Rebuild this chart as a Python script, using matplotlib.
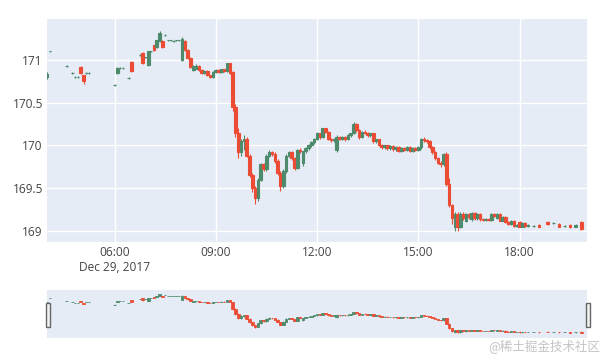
import matplotlib.pyplot as plt
import matplotlib.dates as mdates
from matplotlib.patches import Rectangle
import pandas as pd

# 5-minute candles, Dec 29, 2017
times = ['04:00', '04:05', '04:35', '04:45', '04:50', '04:55', '05:00', '05:05', '05:10', '05:15',
         '06:00', '06:05', '06:10', '06:15', '06:25', '06:30', '06:45', '06:50', '06:55',
         '07:00', '07:05', '07:10', '07:15', '07:20', '07:25', '07:30', '07:35', '07:40', '07:45',
         '07:50', '07:55', '08:00', '08:05', '08:10', '08:15', '08:20', '08:25', '08:30', '08:35',
         '08:40', '08:45', '08:50', '08:55', '09:00', '09:05', '09:10', '09:15', '09:20', '09:25',
         '09:30', '09:35', '09:40', '09:45', '09:50', '09:55', '10:00', '10:05', '10:10', '10:15',
         '10:20', '10:25', '10:30', '10:35', '10:40', '10:45', '10:50', '10:55', '11:00', '11:05',
         '11:10', '11:15', '11:20', '11:25', '11:30', '11:35', '11:40', '11:45', '11:50', '11:55',
         '12:00', '12:05', '12:10', '12:15', '12:20', '12:25', '12:30', '12:35', '12:40', '12:45',
         '12:50', '12:55', '13:00', '13:05', '13:10', '13:15', '13:20', '13:25', '13:30', '13:35',
         '13:40', '13:45', '13:50', '13:55', '14:00', '14:05', '14:10', '14:15', '14:20', '14:25',
         '14:30', '14:35', '14:40', '14:45', '14:50', '14:55', '15:00', '15:05', '15:10', '15:15',
         '15:20', '15:25', '15:30', '15:35', '15:40', '15:45', '15:50', '15:55', '16:00', '16:05',
         '16:10', '16:15', '16:20', '16:25', '16:30', '16:35', '16:40', '16:45', '16:50', '16:55',
         '17:00', '17:05', '17:10', '17:15', '17:20', '17:25', '17:30', '17:35', '17:40', '17:45',
         '17:50', '17:55', '18:00', '18:05', '18:10', '18:15', '18:25', '18:35', '18:50', '19:00',
         '19:10', '19:20', '19:30', '19:40', '19:50']

opens = [170.80, 171.10, 170.93, 170.85, 170.80, 170.80, 170.92, 170.82, 170.85, 170.85,
         170.71, 170.85, 170.91, 170.91, 170.79, 170.98, 171.06, 171.08, 171.03,
         170.94, 171.10, 171.17, 171.15, 171.22, 171.22, 171.29, 171.23, 171.23, 171.22,
         171.23, 171.23, 171.00, 171.22, 171.12, 171.02, 170.88, 170.90, 170.93, 170.88,
         170.85, 170.87, 170.82, 170.80, 170.86, 170.88, 170.86, 170.89, 170.87, 170.96,
         170.86, 170.45, 170.15, 169.92, 170.05, 170.08, 169.88, 169.65, 169.50, 169.38,
         169.60, 169.78, 169.72, 169.88, 169.92, 169.90, 169.82, 169.68, 169.52, 169.70,
         169.88, 169.92, 169.85, 169.74, 169.95, 169.80, 169.93, 169.97, 170.00, 170.04,
         170.08, 170.14, 170.10, 170.20, 170.16, 170.08, 170.06, 169.95, 170.10, 170.08,
         170.10, 170.07, 170.12, 170.14, 170.25, 170.18, 170.10, 170.16, 170.15, 170.12,
         170.14, 170.05, 170.07, 170.01, 169.98, 170.00, 169.97, 169.99, 169.96, 169.98,
         169.94, 169.97, 169.95, 169.98, 169.94, 169.97, 169.95, 169.98, 170.08, 170.06,
         170.05, 169.98, 169.92, 169.85, 169.80, 169.78, 169.90, 169.55, 169.30, 169.05,
         169.20, 169.05, 169.20, 169.12, 169.20, 169.14, 169.21, 169.15, 169.20, 169.14,
         169.13, 169.14, 169.13, 169.20, 169.15, 169.20, 169.12, 169.16, 169.10, 169.08,
         169.12, 169.06, 169.10, 169.05, 169.09, 169.06, 169.06, 169.07, 169.10, 169.09,
         169.08, 169.06, 169.07, 169.05, 169.10]

highs = [170.86, 171.11, 170.94, 170.86, 170.81, 170.81, 170.93, 170.83, 170.86, 170.86,
         170.72, 170.92, 170.92, 170.92, 170.80, 170.99, 171.07, 171.09, 171.04,
         171.11, 171.11, 171.18, 171.24, 171.34, 171.23, 171.30, 171.24, 171.24, 171.23,
         171.24, 171.24, 171.27, 171.23, 171.13, 171.03, 170.94, 170.95, 170.94, 170.89,
         170.88, 170.88, 170.83, 170.87, 170.89, 170.89, 170.90, 170.90, 170.97, 170.97,
         170.87, 170.48, 170.20, 170.07, 170.12, 170.10, 169.90, 169.68, 169.52, 169.62,
         169.80, 169.80, 169.90, 169.95, 169.94, 169.92, 169.84, 169.70, 169.72, 169.90,
         169.94, 169.93, 169.87, 169.96, 169.97, 169.94, 169.98, 170.02, 170.05, 170.09,
         170.16, 170.15, 170.21, 170.21, 170.17, 170.09, 170.09, 170.12, 170.11, 170.11,
         170.11, 170.13, 170.15, 170.27, 170.26, 170.19, 170.17, 170.18, 170.16, 170.15,
         170.15, 170.08, 170.08, 170.02, 170.01, 170.01, 170.00, 170.00, 169.99, 169.99,
         169.98, 169.98, 169.99, 169.99, 169.98, 169.98, 169.99, 170.09, 170.10, 170.08,
         170.06, 169.99, 169.93, 169.86, 169.82, 169.91, 169.92, 169.62, 169.32, 169.22,
         169.22, 169.22, 169.22, 169.21, 169.21, 169.22, 169.22, 169.21, 169.21, 169.15,
         169.15, 169.15, 169.21, 169.21, 169.21, 169.21, 169.17, 169.17, 169.11, 169.13,
         169.13, 169.08, 169.11, 169.10, 169.10, 169.08, 169.07, 169.08, 169.11, 169.10,
         169.09, 169.07, 169.08, 169.08, 169.11]

lows = [170.78, 171.09, 170.92, 170.84, 170.79, 170.79, 170.84, 170.72, 170.84, 170.84,
        170.70, 170.84, 170.90, 170.90, 170.78, 170.86, 171.05, 170.95, 171.02,
        170.93, 171.09, 171.11, 171.14, 171.21, 171.14, 171.28, 171.22, 171.22, 171.21,
        171.22, 171.22, 170.99, 171.11, 171.01, 170.91, 170.87, 170.89, 170.87, 170.84,
        170.84, 170.81, 170.79, 170.79, 170.85, 170.85, 170.85, 170.86, 170.86, 170.84,
        170.40, 170.10, 169.85, 169.88, 169.95, 169.86, 169.63, 169.45, 169.32, 169.35,
        169.58, 169.70, 169.70, 169.86, 169.88, 169.80, 169.66, 169.47, 169.50, 169.68,
        169.86, 169.83, 169.71, 169.72, 169.91, 169.76, 169.91, 169.95, 169.98, 170.02,
        170.06, 170.08, 170.09, 170.14, 170.06, 170.04, 170.04, 169.92, 170.06, 170.06,
        170.05, 170.06, 170.10, 170.13, 170.16, 170.08, 170.09, 170.13, 170.10, 170.10,
        170.03, 170.03, 169.99, 169.96, 169.96, 169.95, 169.95, 169.94, 169.94, 169.92,
        169.92, 169.93, 169.93, 169.92, 169.92, 169.93, 169.93, 169.96, 170.04, 170.03,
        169.96, 169.90, 169.83, 169.78, 169.75, 169.76, 169.53, 169.28, 169.08, 169.00,
        169.00, 169.03, 169.13, 169.10, 169.14, 169.12, 169.13, 169.13, 169.12, 169.12,
        169.12, 169.12, 169.12, 169.16, 169.14, 169.11, 169.11, 169.09, 169.07, 169.07,
        169.05, 169.05, 169.04, 169.04, 169.05, 169.05, 169.05, 169.04, 169.07, 169.08,
        169.04, 169.05, 169.03, 169.04, 169.01]

closes = [170.84, 171.10, 170.93, 170.85, 170.80, 170.80, 170.85, 170.75, 170.85, 170.85,
          170.71, 170.91, 170.91, 170.91, 170.79, 170.87, 171.06, 170.96, 171.03,
          171.10, 171.10, 171.12, 171.23, 171.32, 171.15, 171.29, 171.23, 171.23, 171.22,
          171.23, 171.23, 171.25, 171.12, 171.02, 170.92, 170.93, 170.93, 170.88, 170.85,
          170.87, 170.82, 170.80, 170.86, 170.88, 170.86, 170.89, 170.87, 170.96, 170.85,
          170.45, 170.15, 169.92, 170.05, 170.08, 169.88, 169.65, 169.50, 169.38, 169.60,
          169.78, 169.72, 169.88, 169.92, 169.90, 169.82, 169.68, 169.52, 169.70, 169.88,
          169.92, 169.85, 169.74, 169.95, 169.93, 169.93, 169.97, 170.00, 170.04, 170.08,
          170.14, 170.10, 170.20, 170.16, 170.08, 170.06, 170.08, 170.10, 170.08, 170.10,
          170.07, 170.12, 170.14, 170.25, 170.18, 170.10, 170.16, 170.15, 170.12, 170.14,
          170.05, 170.07, 170.01, 169.98, 170.00, 169.97, 169.99, 169.96, 169.98, 169.94,
          169.97, 169.95, 169.98, 169.94, 169.97, 169.95, 169.98, 170.08, 170.06, 170.05,
          169.98, 169.92, 169.85, 169.80, 169.78, 169.90, 169.55, 169.30, 169.15, 169.20,
          169.05, 169.20, 169.15, 169.20, 169.16, 169.21, 169.15, 169.20, 169.14, 169.13,
          169.14, 169.13, 169.20, 169.17, 169.20, 169.12, 169.16, 169.10, 169.08, 169.12,
          169.06, 169.07, 169.05, 169.09, 169.06, 169.07, 169.06, 169.05, 169.08, 169.09,
          169.05, 169.06, 169.04, 169.07, 169.02]

y_ticks = [169, 169.5, 170, 170.5, 171]
y_labels = ['169', '169.5', '170', '170.5', '171']
x_ticks = ['06:00', '09:00', '12:00', '15:00', '18:00']

INC = '#4E8A6C'
DEC = '#EC4B34'
BG = '#E5ECF6'
TXT = '#444444'

plt.rcParams['font.family'] = ['Open Sans', 'DejaVu Sans']

day = '2017-12-29 '
x = mdates.date2num(pd.to_datetime([day + t for t in times]))
x0 = mdates.date2num(pd.Timestamp(day + '04:00'))
x1 = mdates.date2num(pd.Timestamp(day + '20:00'))


def draw_candles(ax, lw):
    cols = [INC if c >= o else DEC for o, c in zip(opens, closes)]
    bottoms = [min(o, c) for o, c in zip(opens, closes)]
    heights = [abs(c - o) for o, c in zip(opens, closes)]
    ax.vlines(x, lows, highs, colors=cols, linewidth=lw, zorder=3)
    ax.bar(x, heights, bottom=bottoms, width=4.6 / 1440, color=cols,
           edgecolor=cols, linewidth=lw, zorder=3)


fig = plt.figure(figsize=(6.06, 3.56), dpi=100)

ax = fig.add_axes([47 / 606, 1 - 242 / 356, 540 / 606, 223 / 356])
ax.set_facecolor(BG)
draw_candles(ax, 0.8)
ax.set_xlim(x0, x1)
ax.set_ylim(168.87, 171.48)
ax.set_yticks(y_ticks)
ax.set_yticklabels(y_labels)
tick_x = mdates.date2num(pd.to_datetime([day + t for t in x_ticks]))
ax.set_xticks(tick_x)
ax.set_xticklabels(x_ticks)
ax.grid(True, color='white', linewidth=1)
ax.set_axisbelow(True)
ax.tick_params(length=0, colors=TXT, labelsize=8.6)
ax.tick_params(axis='y', pad=3)
ax.tick_params(axis='x', pad=3)
for s in ax.spines.values():
    s.set_visible(False)
ax.annotate('Dec 29, 2017', xy=(tick_x[0], 0), xycoords=('data', 'axes fraction'),
            xytext=(0, -18.5), textcoords='offset points', ha='center', va='center',
            color=TXT, fontsize=8.6)

# range slider
rs = fig.add_axes([47 / 606, 1 - 338 / 356, 540 / 606, 48 / 356])
rs.set_facecolor(BG)
draw_candles(rs, 0.6)
rs.set_xlim(x0, x1)
rs.set_ylim(168.72, 171.58)
rs.set_xticks([])
rs.set_yticks([])
for s in rs.spines.values():
    s.set_visible(False)

for hx in (45.5 / 606, 585.5 / 606):
    fig.patches.append(Rectangle((hx, 1 - 327 / 356), 4 / 606, 24 / 356,
                                 transform=fig.transFigure, facecolor='#f2f2f2',
                                 edgecolor='#666666', linewidth=1))

fig.text(600 / 606, 1 - 346 / 356, '@稀土掘金技术社区', ha='right', va='center',
         color='#c4c4c4', fontsize=9, family=['Noto Sans CJK SC', 'DejaVu Sans'])

fig.savefig('out.png', dpi=100)
